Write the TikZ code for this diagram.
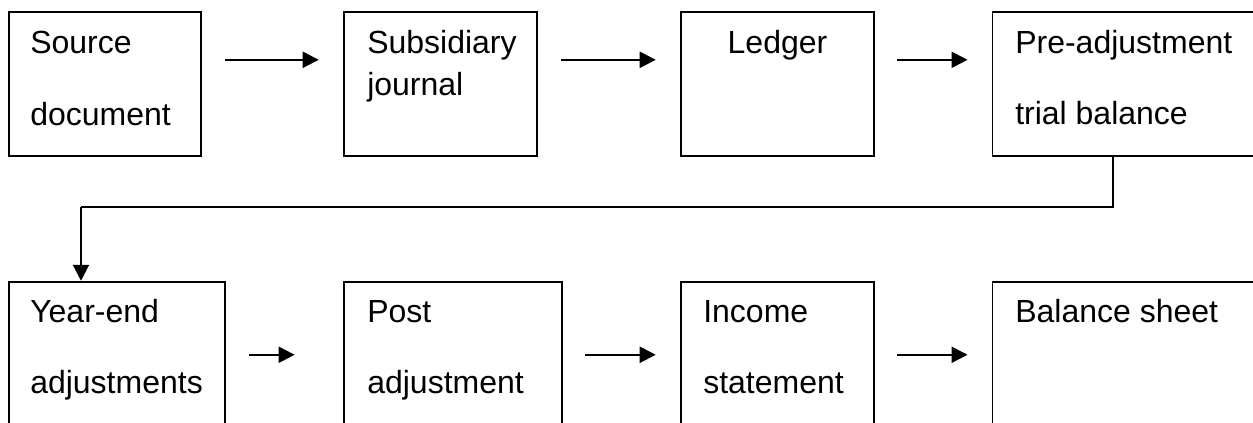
\documentclass[tikz,border=0pt]{standalone}
\usepackage{fontspec}
\setmainfont{Liberation Sans}
\usetikzlibrary{arrows.meta}
\tikzset{
  box/.style={draw, line width=1.4pt, rectangle, inner sep=0pt},
  lbl/.style={inner sep=0pt, anchor=base west, font=\fontsize{24}{28}\selectfont},
  clbl/.style={lbl, anchor=base},
  arr/.style={line width=1.5pt, -{Triangle[length=12pt,width=12pt]}},
  link/.style={line width=1.5pt},
}
\begin{document}
\begin{tikzpicture}[x=0.75pt,y=-0.75pt]
\useasboundingbox (0,0) rectangle (1253,422);
\clip (0,0) rectangle (1253,422);

% top row
\node[box, minimum width=192bp*0.75, minimum height=144bp*0.75] (b1) at (105,84) {};
\node[box, minimum width=193bp*0.75, minimum height=144bp*0.75] (b2) at (440.5,84) {};
\node[box, minimum width=193bp*0.75, minimum height=144bp*0.75] (b3) at (777.5,84) {};
\node[box, minimum width=277bp*0.75, minimum height=144bp*0.75] (b4) at (1131.5,84) {};

% bottom row
\node[box, minimum width=216bp*0.75, minimum height=158bp*0.75] (b5) at (117,361) {};
\node[box, minimum width=218bp*0.75, minimum height=158bp*0.75] (b6) at (453,361) {};
\node[box, minimum width=193bp*0.75, minimum height=158bp*0.75] (b7) at (777.5,361) {};
\node[box, minimum width=277bp*0.75, minimum height=158bp*0.75] (b8) at (1131.5,361) {};

% labels
\node[lbl] (t1a) at (30,53) {Source};
\node[lbl] (t1b) at (30,125) {document};
\node[lbl] (t2a) at (367,53) {Subsidiary};
\node[lbl] (t2b) at (367,95) {journal};
\node[clbl] (t3a) at (777.5,53) {Ledger};
\node[lbl] (t4a) at (1015,53) {Pre-adjustment};
\node[lbl] (t4b) at (1015,124) {trial balance};
\node[lbl] (t5a) at (30,322) {Year-end};
\node[lbl] (t5b) at (30,393) {adjustments};
\node[lbl] (t6a) at (367,322) {Post};
\node[lbl] (t6b) at (367,393) {adjustment};
\node[lbl] (t7a) at (703,322) {Income};
\node[lbl] (t7b) at (703,393) {statement};
\node[lbl] (t8a) at (1015,322) {Balance sheet};

% top row arrows
\draw[arr] ([shift={(23,49)}]b1.north east) -- ([shift={(-24,49)}]b2.north west);
\draw[arr] ([shift={(23,49)}]b2.north east) -- ([shift={(-24,49)}]b3.north west);
\draw[arr] ([shift={(22,49)}]b3.north east) -- ([shift={(-24,49)}]b4.north west);

% bottom row arrows
\draw[arr] ([shift={(23,74)}]b5.north east) -- ([shift={(-48,74)}]b6.north west);
\draw[arr] ([shift={(22,74)}]b6.north east) -- ([shift={(-24,74)}]b7.north west);
\draw[arr] ([shift={(22,74)}]b7.north east) -- ([shift={(-24,74)}]b8.north west);

% link from the first row down to the second
\coordinate (turn) at (1113,207);
\coordinate (drop) at (81,207);
\draw[link] (b4.south -| turn) -- (turn) -- (drop);
\draw[arr] (drop) -- (b5.north -| drop);
\end{tikzpicture}
\end{document}
